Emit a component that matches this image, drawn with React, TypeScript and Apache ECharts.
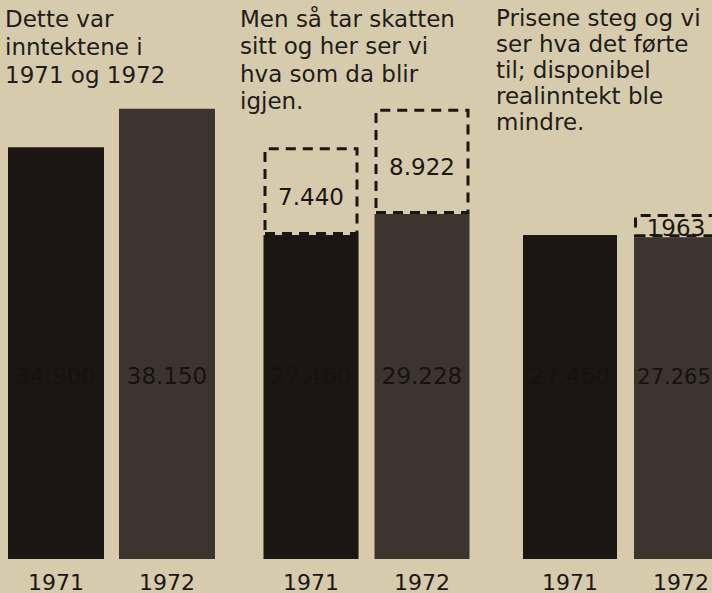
import React, { useEffect, useRef } from "react";
import * as echarts from "echarts";

const years = ["1971", "1972"];
const grossIncome = [34900, 38150];
const taxPaid = [7440, 8922];
const netIncome = [27460, 29228];
const realIncome = [27460, 27265];
const priceLoss: (number | string)[] = ["-", 1963];

const noteLeft = ["Dette var", "inntektene i", "1971 og 1972"];
const noteMid = ["Men så tar skatten", "sitt og her ser vi", "hva som da blir", "igjen."];
const noteRight = ["Prisene steg og vi", "ser hva det førte", "til; disponibel", "realinntekt ble", "mindre."];

const BG = "#d6cbad";
const barColors = ["#1b1513", "#3d3430"];
const INK = "#1c1613";
const FONT = "DejaVu Sans";

const fmt = (v: number) => {
  const s = String(Math.round(v));
  return s.length > 3 ? s.slice(0, s.length - 3) + "." + s.slice(-3) : s;
};

export default function App() {
  const ref = useRef<HTMLDivElement>(null);
  useEffect(() => {
    if (!ref.current) return;
    const chart = echarts.init(ref.current, undefined, { renderer: "svg" });
    // each grid spans from the 1971 bar centre to the 1972 bar centre
    const grids = [
      { left: 56, width: 111, top: 28, bottom: 32 },
      { left: 311, width: 111, top: 28, bottom: 32 },
      { left: 570, width: 111, top: 28, bottom: 32 },
    ];
    const xAxes = grids.map((_, i) => ({
      type: "category",
      gridIndex: i,
      data: years,
      boundaryGap: false,
      axisLine: { show: false },
      axisTick: { show: false },
      splitLine: { show: false },
      axisLabel: { color: INK, fontSize: 22, fontFamily: FONT, margin: 12 },
    }));
    const yAxes = grids.map((_, i) => ({
      type: "value",
      gridIndex: i,
      min: 0,
      max: 45000,
      show: false,
      splitLine: { show: false },
    }));
    const colored = (arr: number[], edge = false) =>
      arr.map((v, i) => {
        const item: any = { value: v, itemStyle: { color: barColors[i] } };
        if (edge && i === arr.length - 1) {
          item.label = { fontSize: 21, offset: [-7, 0] };
        }
        return item;
      });
    const innerLabel = {
      show: true,
      position: "insideBottom",
      distance: 172,
      color: "#171210",
      fontSize: 23,
      fontFamily: FONT,
      formatter: (p: any) => fmt(p.value),
    };
    const dashed = {
      color: "rgba(0,0,0,0)",
      borderColor: INK,
      borderWidth: 3,
      borderType: [10, 7],
    };
    const mkNote = (lines: string[], x: number, lh: number) => ({
      type: "text",
      left: x,
      top: 5,
      style: {
        text: lines.join("\n"),
        fill: "#221c18",
        font: `23px "${FONT}"`,
        lineHeight: lh,
      },
    });
    chart.setOption({
      animation: false,
      backgroundColor: BG,
      grid: grids,
      xAxis: xAxes,
      yAxis: yAxes,
      series: [
        {
          type: "bar",
          xAxisIndex: 0,
          yAxisIndex: 0,
          clip: false,
          barWidth: 96,
          data: colored(grossIncome),
          label: innerLabel,
        },
        {
          type: "bar",
          xAxisIndex: 1,
          yAxisIndex: 1,
          clip: false,
          stack: "skatt",
          barWidth: 95,
          data: colored(netIncome),
          label: innerLabel,
        },
        {
          type: "bar",
          xAxisIndex: 1,
          yAxisIndex: 1,
          clip: false,
          stack: "skatt",
          barWidth: 95,
          data: taxPaid,
          itemStyle: dashed,
          label: {
            show: true,
            position: "inside",
            offset: [0, 6],
            color: INK,
            fontSize: 23,
            fontFamily: FONT,
            formatter: (p: any) => fmt(p.value),
          },
        },
        {
          type: "bar",
          xAxisIndex: 2,
          yAxisIndex: 2,
          clip: false,
          stack: "pris",
          barWidth: 94,
          data: colored(realIncome, true),
          label: innerLabel,
        },
        {
          type: "bar",
          xAxisIndex: 2,
          yAxisIndex: 2,
          clip: false,
          stack: "pris",
          barWidth: 94,
          data: priceLoss,
          itemStyle: dashed,
          label: {
            show: true,
            position: "inside",
            offset: [-5, 2],
            color: INK,
            fontSize: 23,
            fontFamily: FONT,
            formatter: (p: any) => String(p.value),
          },
        },
      ],
      graphic: [
        mkNote(noteLeft, 5, 28),
        mkNote(noteMid, 240, 27.5),
        mkNote(noteRight, 496, 26),
      ],
    });
    return () => chart.dispose();
  }, []);
  return (
    <div
      ref={ref}
      style={{ position: "fixed", left: 0, top: 0, width: 712, height: 593, background: BG }}
    />
  );
}
